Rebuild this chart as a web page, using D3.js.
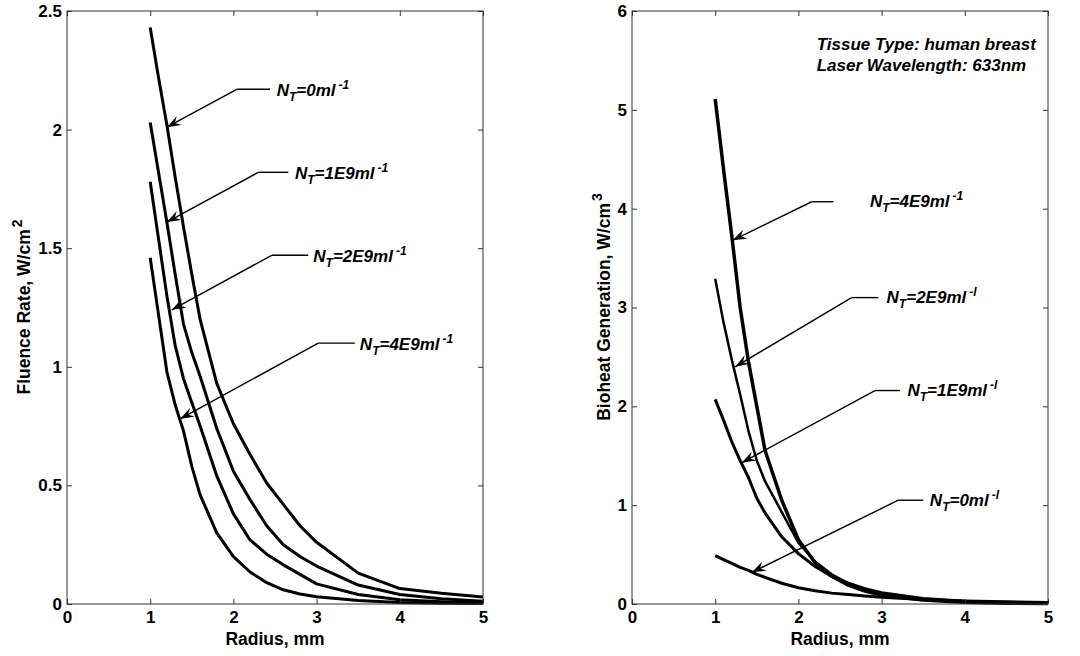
<!DOCTYPE html>
<html><head><meta charset="utf-8">
<script src="https://cdn.jsdelivr.net/npm/d3@7"></script>
<style>body{margin:0;background:#fff}svg{display:block}text{font-family:"Liberation Sans",Arial,sans-serif;font-weight:bold}</style>
</head><body><svg id="c" width="1080" height="656"></svg>
<script>
const radius = [1.0,1.1,1.2,1.3,1.4,1.5,1.6,1.8,2.0,2.2,2.4,2.6,2.8,3.0,3.5,4.0,4.5,5.0];
// Fluence rate, W/cm^2
const fluence0   = [2.43,2.22,2.02,1.80,1.59,1.39,1.20,0.93,0.76,0.63,0.51,0.42,0.33,0.26,0.13,0.065,0.045,0.03];
const fluence1E9 = [2.03,1.82,1.61,1.39,1.18,1.06,0.96,0.74,0.56,0.44,0.33,0.25,0.20,0.16,0.08,0.04,0.022,0.012];
const fluence2E9 = [1.78,1.54,1.30,1.09,0.95,0.85,0.75,0.54,0.38,0.27,0.21,0.165,0.125,0.085,0.04,0.018,0.01,0.005];
const fluence4E9 = [1.46,1.22,0.98,0.84,0.73,0.58,0.46,0.30,0.20,0.135,0.09,0.06,0.042,0.031,0.015,0.006,0.003,0.002];
// Bioheat generation, W/cm^3
const bioheat0   = [0.49,0.45,0.41,0.37,0.34,0.30,0.27,0.21,0.165,0.135,0.11,0.095,0.08,0.068,0.045,0.03,0.022,0.015];
const bioheat1E9 = [2.07,1.86,1.64,1.45,1.28,1.07,0.92,0.68,0.51,0.38,0.28,0.21,0.155,0.115,0.055,0.028,0.015,0.008];
const bioheat2E9 = [3.29,2.85,2.47,2.12,1.75,1.45,1.24,0.93,0.62,0.43,0.30,0.21,0.145,0.10,0.045,0.02,0.01,0.005];
const bioheat4E9 = [5.11,4.40,3.72,3.00,2.45,2.00,1.55,1.05,0.65,0.42,0.28,0.19,0.13,0.09,0.04,0.018,0.008,0.004];

const xTicks = [0,1,2,3,4,5];
const leftYTicks = [0,0.5,1,1.5,2,2.5];
const rightYTicks = [0,1,2,3,4,5,6];

// annotations: [tipX, tipY, elbowX, elbowY, endX, textX, textY, main, sup]
const leftNotes = [
  [1.20,2.01, 2.04,2.17, 2.44, 2.52,2.14, "=0ml", "-1"],
  [1.20,1.61, 2.30,1.82, 2.66, 2.74,1.79, "=1E9ml", "-1"],
  [1.26,1.24, 2.46,1.47, 2.90, 2.96,1.44, "=2E9ml", "-1"],
  [1.36,0.78, 3.02,1.10, 3.46, 3.52,1.07, "=4E9ml", "-1"]
];
const rightNotes = [
  [1.21,3.68, 2.16,4.07, 2.42, 2.86,4.02, "=4E9ml", "-1"],
  [1.24,2.40, 2.64,3.10, 2.96, 3.06,3.05, "=2E9ml", "-l"],
  [1.32,1.43, 2.92,2.16, 3.22, 3.31,2.10, "=1E9ml", "-l"],
  [1.44,0.32, 3.20,1.05, 3.50, 3.58,0.99, "=0ml", "-l"]
];

const svg = d3.select("#c");
const defs = svg.append("defs");
defs.append("marker").attr("id","ah").attr("viewBox","0 0 14 10").attr("refX",14).attr("refY",5)
  .attr("markerWidth",14).attr("markerHeight",10).attr("markerUnits","userSpaceOnUse").attr("orient","auto")
  .append("path").attr("d","M0,0 L14,5 L0,10 L5,5 Z").attr("fill","#000");

function panel(opts){
  const x = d3.scaleLinear().domain([0,5]).range([opts.x0, opts.x1]);
  const y = d3.scaleLinear().domain([0,opts.ymax]).range([604, 11]);
  const g = svg.append("g");
  const line = d3.line().x((d,i)=>x(radius[i])).y(d=>y(d));
  opts.series.forEach((s,k)=>{
    g.append("path").attr("d", line(s)).attr("fill","none").attr("stroke","#000")
     .attr("stroke-width", opts.widths[k]).attr("stroke-linejoin","round");
  });
  g.append("rect").attr("x",opts.x0).attr("y",11).attr("width",opts.x1-opts.x0).attr("height",593)
   .attr("fill","none").attr("stroke","#333").attr("stroke-width",1);
  const ax = g.append("g").attr("transform","translate(0,604)")
    .call(d3.axisBottom(x).tickValues(xTicks).tickFormat(d3.format("d")).tickSizeInner(-5).tickSizeOuter(0).tickPadding(7));
  const axT = g.append("g").attr("transform","translate(0,11)")
    .call(d3.axisTop(x).tickValues(xTicks).tickFormat("").tickSizeInner(-5).tickSizeOuter(0));
  const ay = g.append("g").attr("transform",`translate(${opts.x0},0)`)
    .call(d3.axisLeft(y).tickValues(opts.yTicks).tickFormat(d=>String(d)).tickSizeInner(-5).tickSizeOuter(0).tickPadding(5));
  const ayR = g.append("g").attr("transform",`translate(${opts.x1},0)`)
    .call(d3.axisRight(y).tickValues(opts.yTicks).tickFormat("").tickSizeInner(-5).tickSizeOuter(0));
  [ax,axT,ay,ayR].forEach(a=>{
    a.select(".domain").remove();
    a.selectAll(".tick line").attr("stroke","#333");
    a.selectAll("text").attr("font-size",17).attr("font-weight","bold").attr("fill","#000")
      .attr("font-family","'Liberation Sans',Arial,sans-serif");
  });
  g.append("text").attr("x",(opts.x0+opts.x1)/2).attr("y",645).attr("text-anchor","middle")
   .attr("font-size",17.5).text("Radius, mm");
  const yl = g.append("text").attr("transform",`translate(${opts.ylx},307) rotate(-90)`)
   .attr("text-anchor","middle").attr("font-size",17.5);
  yl.append("tspan").text(opts.ylabel);
  yl.append("tspan").attr("dy",-8).attr("dx",2).attr("font-size",14).text(opts.ysup);
  opts.notes.forEach(n=>{
    const [tx,ty,ex,ey,endx,lx,ly,main,sup] = n;
    g.append("line").attr("x1",x(ex)).attr("y1",y(ey)).attr("x2",x(endx)).attr("y2",y(ey))
      .attr("stroke","#000").attr("stroke-width",1.4);
    g.append("line").attr("x1",x(ex)).attr("y1",y(ey)).attr("x2",x(tx)).attr("y2",y(ty))
      .attr("stroke","#000").attr("stroke-width",1.4).attr("marker-end","url(#ah)");
    const t = g.append("text").attr("x",x(lx)).attr("y",y(ly)).attr("font-size",17).attr("font-style","italic");
    t.append("tspan").text("N");
    t.append("tspan").attr("dy",5).attr("font-size",12).text("T");
    t.append("tspan").attr("dy",-5).text(main);
    t.append("tspan").attr("dy",-7).attr("dx",3).attr("font-size",12).text(sup);
  });
  return {g,x,y};
}

panel({x0:67,x1:483,ymax:2.5,yTicks:leftYTicks,series:[fluence0,fluence1E9,fluence2E9,fluence4E9],
  widths:[3,3,3,3],notes:leftNotes,ylabel:"Fluence Rate, W/cm",ysup:"2",ylx:30});
const R = panel({x0:632,x1:1048,ymax:6,yTicks:rightYTicks,series:[bioheat4E9,bioheat2E9,bioheat1E9,bioheat0],
  widths:[3.5,2.5,3,3],notes:rightNotes,ylabel:"Bioheat Generation, W/cm",ysup:"3",ylx:610});
R.g.append("text").attr("x",R.x(2.22)).attr("y",R.y(5.605)).attr("font-size",17).attr("font-style","italic")
  .text("Tissue Type: human breast");
R.g.append("text").attr("x",R.x(2.22)).attr("y",R.y(5.39)).attr("font-size",17).attr("font-style","italic")
  .text("Laser Wavelength: 633nm");
</script></body></html>
